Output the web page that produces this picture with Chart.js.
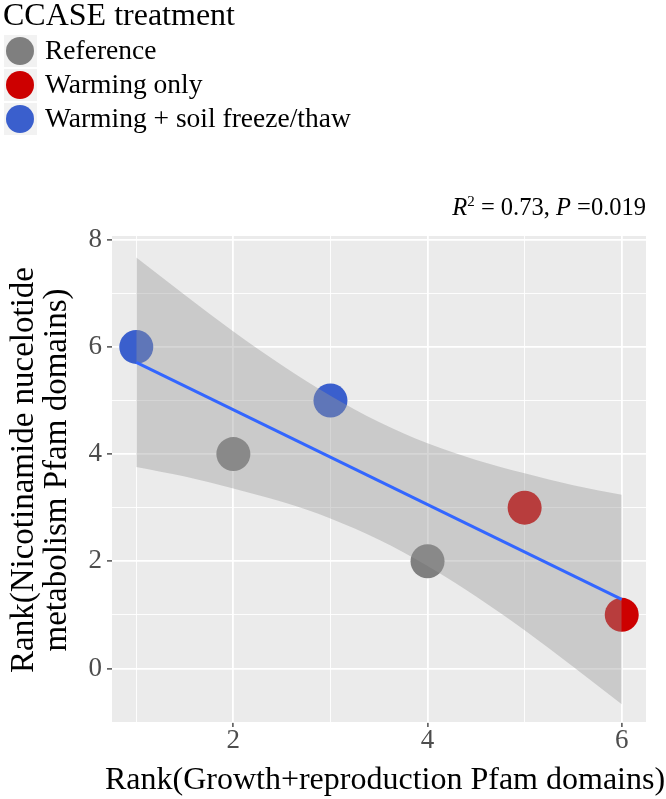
<!DOCTYPE html>
<html>
<head>
<meta charset="utf-8">
<script src="https://cdn.jsdelivr.net/npm/chart.js@4"></script>
<style>
  html, body { margin: 0; padding: 0; background: #fff; }
  #wrap { width: 666px; height: 799px; }
</style>
</head>
<body>
<div id="wrap"><canvas id="js-rank-chart" width="666" height="799"></canvas></div>
<script>
// treatment groups and their ranks
var groups = ['Reference', 'Warming only', 'Warming + soil freeze/thaw'];
var refX = [2, 4];
var refY = [4, 2];
var warmX = [5, 6];
var warmY = [3, 1];
var thawX = [1, 3];
var thawY = [6, 5];

// fitted line and 95% band
var fitX = [1, 6];
var fitY = [5.71, 1.29];
var bandX = [1, 1.5, 2, 2.5, 3, 3.5, 4, 4.5, 5, 5.5, 6];
var bandUpper = [7.67, 6.97, 6.29, 5.66, 5.09, 4.60, 4.20, 3.89, 3.64, 3.42, 3.24];
var bandLower = [3.76, 3.58, 3.36, 3.11, 2.80, 2.40, 1.91, 1.34, 0.71, 0.03, -0.67];

// axis ticks
var xTicks = [1, 2, 3, 4, 5, 6];
var xTickLabels = [2, 4, 6];
var yTicks = [-1, 0, 1, 2, 3, 4, 5, 6, 7, 8];
var yTickLabels = [0, 2, 4, 6, 8];

var colors = ['#7F7F7F', '#CD0000', '#3A5FCD'];
var serif = '"Liberation Serif", "Times New Roman", serif';

function pts(xs, ys) {
  return xs.map(function (x, i) { return { x: x, y: ys[i] }; });
}

function pointSet(idx, xs, ys) {
  return {
    label: groups[idx],
    data: pts(xs, ys),
    backgroundColor: colors[idx],
    borderWidth: 0,
    pointRadius: 17,
    pointHoverRadius: 17,
    order: 3
  };
}

var PANEL = { left: 112, top: 236, right: 646, bottom: 722 };

var ggPlugin = {
  id: 'ggstuff',
  beforeDraw: function (chart) {
    var ctx = chart.ctx, a = chart.chartArea;
    ctx.save();
    ctx.fillStyle = '#fff';
    ctx.fillRect(0, 0, chart.width, chart.height);
    ctx.fillStyle = '#EBEBEB';
    ctx.fillRect(a.left, a.top, a.right - a.left, a.bottom - a.top);
    ctx.restore();
  },
  afterDraw: function (chart) {
    var ctx = chart.ctx, a = chart.chartArea;
    ctx.save();
    ctx.fillStyle = '#000';
    ctx.textBaseline = 'middle';

    // legend
    ctx.textAlign = 'left';
    ctx.font = '32px ' + serif;
    ctx.fillText('CCASE treatment', 3, 17);
    var keyY = [51, 85, 119];
    for (var i = 0; i < groups.length; i++) {
      ctx.fillStyle = '#F2F2F2';
      ctx.fillRect(4, keyY[i] - 16, 33, 32);
      ctx.fillStyle = colors[i];
      ctx.beginPath();
      ctx.arc(20, keyY[i], 14, 0, Math.PI * 2);
      ctx.fill();
      ctx.fillStyle = '#000';
      ctx.font = '27.5px ' + serif;
      ctx.fillText(groups[i], 45, keyY[i] + 1);
    }

    // R2 / P annotation
    var parts = [
      { t: 'R', f: 'italic 24.5px ' + serif, dy: 0 },
      { t: '2', f: '15px ' + serif, dy: -7 },
      { t: ' = 0.73, ', f: '24.5px ' + serif, dy: 0 },
      { t: 'P', f: 'italic 24.5px ' + serif, dy: 0 },
      { t: ' =0.019', f: '24.5px ' + serif, dy: 0 }
    ];
    var total = 0;
    parts.forEach(function (p) { ctx.font = p.f; total += ctx.measureText(p.t).width; });
    var x = a.right - total;
    parts.forEach(function (p) {
      ctx.font = p.f;
      ctx.fillText(p.t, x, 209 + p.dy);
      x += ctx.measureText(p.t).width;
    });

    // axis titles
    ctx.font = '32px ' + serif;
    ctx.textAlign = 'center';
    ctx.fillText('Rank(Growth+reproduction Pfam domains)', (a.left + a.right) / 2 + 6, 781);
    ctx.translate(40, (a.top + a.bottom) / 2 - 9);
    ctx.rotate(-Math.PI / 2);
    ctx.font = '33px ' + serif;
    ctx.fillText('Rank(Nicotinamide nucelotide', 0, -16);
    ctx.fillText('metabolism Pfam domains)', 0, 17);
    ctx.restore();
  }
};

function gridColor() { return '#fff'; }

new Chart(document.getElementById('js-rank-chart'), {
  type: 'scatter',
  data: {
    datasets: [
      pointSet(0, refX, refY),
      pointSet(1, warmX, warmY),
      pointSet(2, thawX, thawY),
      {
        label: 'upper',
        data: pts(bandX, bandUpper),
        showLine: true,
        borderWidth: 0,
        borderColor: 'transparent',
        pointRadius: 0,
        cubicInterpolationMode: 'monotone',
        fill: false,
        order: 2
      },
      {
        label: 'lower',
        data: pts(bandX, bandLower),
        showLine: true,
        borderWidth: 0,
        borderColor: 'transparent',
        pointRadius: 0,
        cubicInterpolationMode: 'monotone',
        fill: '-1',
        backgroundColor: 'rgba(153,153,153,0.4)',
        order: 2
      },
      {
        label: 'fit',
        data: pts(fitX, fitY),
        showLine: true,
        borderColor: '#3366FF',
        borderWidth: 3,
        pointRadius: 0,
        fill: false,
        order: 1
      }
    ]
  },
  options: {
    responsive: false,
    animation: false,
    events: [],
    layout: { padding: { top: PANEL.top, right: 666 - PANEL.right, left: 0, bottom: 0 } },
    plugins: {
      legend: { display: false },
      tooltip: { enabled: false },
      filler: { propagate: false }
    },
    scales: {
      x: {
        type: 'linear',
        min: 0.75,
        max: 6.25,
        afterFit: function (scale) { scale.height = 799 - PANEL.bottom; },
        afterBuildTicks: function (scale) {
          scale.ticks = xTicks.map(function (v) { return { value: v }; });
        },
        border: { display: false },
        grid: {
          color: gridColor,
          lineWidth: function (c) { return xTickLabels.indexOf(c.tick.value) >= 0 ? 1.8 : 0.9; },
          tickLength: 5,
          tickColor: function (c) { return xTickLabels.indexOf(c.tick.value) >= 0 ? '#333333' : 'rgba(0,0,0,0)'; },
          tickWidth: 1.3
        },
        ticks: {
          padding: -2,
          color: '#4D4D4D',
          font: { family: serif, size: 27 },
          callback: function (v) { return xTickLabels.indexOf(v) >= 0 ? String(v) : ''; }
        }
      },
      y: {
        type: 'linear',
        min: -1.0,
        max: 8.07,
        afterFit: function (scale) { scale.width = PANEL.left; },
        afterBuildTicks: function (scale) {
          scale.ticks = yTicks.map(function (v) { return { value: v }; });
        },
        border: { display: false },
        grid: {
          color: gridColor,
          lineWidth: function (c) { return yTickLabels.indexOf(c.tick.value) >= 0 ? 1.8 : 0.9; },
          tickLength: 5,
          tickColor: function (c) { return yTickLabels.indexOf(c.tick.value) >= 0 ? '#333333' : 'rgba(0,0,0,0)'; },
          tickWidth: 1.3
        },
        ticks: {
          padding: 5,
          color: '#4D4D4D',
          font: { family: serif, size: 27 },
          callback: function (v) { return yTickLabels.indexOf(v) >= 0 ? String(v) : ''; }
        }
      }
    }
  },
  plugins: [ggPlugin]
});
</script>
</body>
</html>
